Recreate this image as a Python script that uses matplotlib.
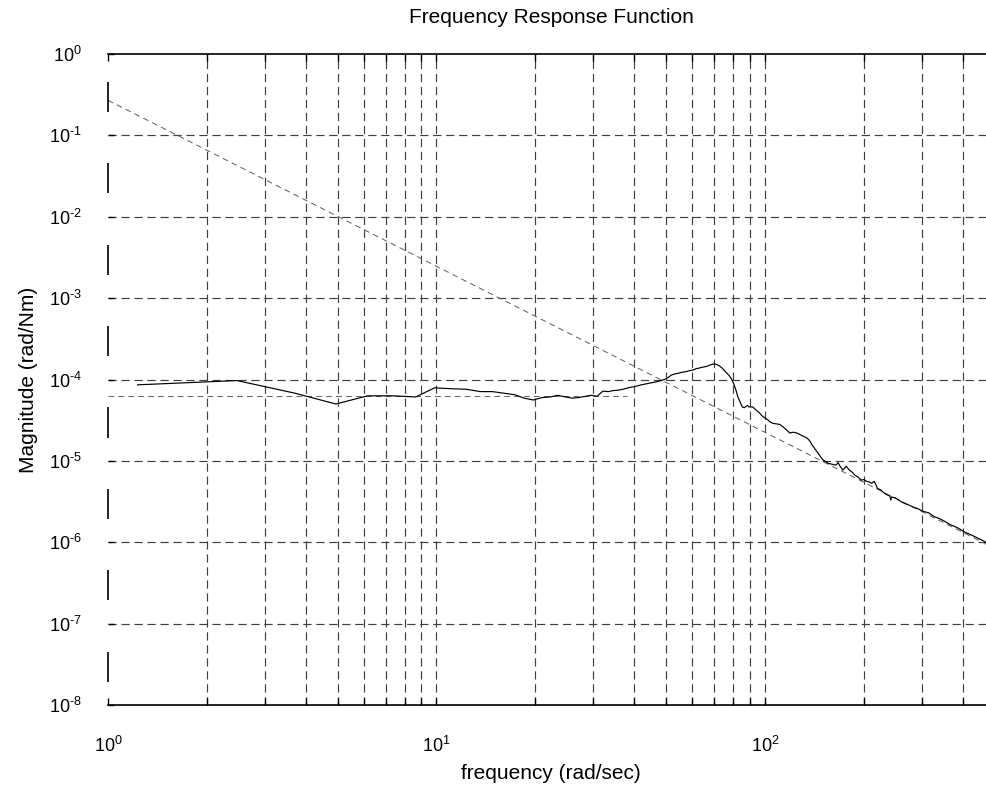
import numpy as np
import matplotlib
matplotlib.use("Agg")
import matplotlib.pyplot as plt
from matplotlib.ticker import FixedLocator, FuncFormatter, NullFormatter

plt.rcParams['font.family'] = ['Liberation Sans', 'DejaVu Sans']
plt.rcParams['mathtext.fontset'] = 'custom'
plt.rcParams['mathtext.rm'] = 'Liberation Sans'
plt.rcParams['mathtext.it'] = 'Liberation Sans'

# measured frequency response (rad/sec, rad/Nm)
freq = [1.23, 2.47, 3.70, 4.94, 6.17, 7.40, 8.64, 9.87, 11.1, 12.3, 13.6, 14.8,
        16.0, 17.3, 18.5, 19.7, 21.0, 22.2, 23.4, 24.7, 25.9, 27.1, 28.4, 29.6,
        30.8, 32.1, 33.3, 34.5, 35.8, 37.0, 38.3, 39.5, 40.7, 42.0, 43.2, 44.4,
        45.7, 46.9, 48.1, 49.4, 50.6, 51.8, 53.1, 54.3, 55.5, 56.8, 58.0, 59.2,
        60.5, 61.7, 63.0, 64.2, 65.4, 66.7, 67.9, 69.1, 70.4, 71.6, 72.8, 74.1,
        75.3, 76.5, 77.8, 79.0, 80.2, 81.5, 82.7, 84.0, 85.3, 86.4, 87.7, 88.5,
        89.5, 91.8, 94.0, 96.1, 98.5, 101.9, 103.7, 105.5, 108.0, 111.0, 113.0,
        115.0, 119.0, 122.0, 125.0, 128.0, 131.0, 134.5, 137.0, 139.0, 142.0,
        145.0, 150.0, 153.0, 156.0, 160.0, 163.5, 165.0, 167.0, 168.6, 172.6,
        176.7, 180.6, 184.0, 187.6, 192.0, 196.6, 200.0, 204.0, 208.0, 211.0,
        215.0, 218.0, 220.0, 225.0, 231.0, 236.0, 240.0, 241.5, 243.0, 250.0,
        258.0, 266.0, 275.0, 283.0, 291.0, 303.0, 315.0, 327.0, 340.0, 353.0,
        367.0, 380.0, 392.0, 403.0, 415.0, 430.0, 445.0, 460.0, 475.0, 490.0,
        500.0]
mag = [8.6e-5, 9.7e-5, 6.8e-5, 5.0e-5, 6.3e-5, 6.3e-5, 6.1e-5, 7.9e-5, 7.7e-5,
       7.6e-5, 7.1e-5, 7.1e-5, 6.8e-5, 6.5e-5, 5.9e-5, 5.6e-5, 6.0e-5, 6.1e-5,
       6.4e-5, 6.1e-5, 5.9e-5, 6.0e-5, 6.2e-5, 6.4e-5, 6.2e-5, 7.2e-5, 7.1e-5,
       7.3e-5, 7.4e-5, 7.6e-5, 7.9e-5, 8.1e-5, 8.3e-5, 8.6e-5, 8.8e-5, 9.0e-5,
       9.2e-5, 9.4e-5, 9.7e-5, 1.00e-4, 1.05e-4, 1.13e-4, 1.17e-4, 1.19e-4,
       1.22e-4, 1.24e-4, 1.26e-4, 1.29e-4, 1.31e-4, 1.36e-4, 1.38e-4, 1.41e-4,
       1.43e-4, 1.46e-4, 1.50e-4, 1.54e-4, 1.55e-4, 1.52e-4, 1.46e-4, 1.38e-4,
       1.28e-4, 1.20e-4, 1.12e-4, 1.02e-4, 9.0e-5, 7.5e-5, 6.1e-5, 5.3e-5,
       4.6e-5, 4.5e-5, 4.7e-5, 4.8e-5, 4.6e-5, 4.6e-5, 4.2e-5, 3.9e-5, 3.5e-5,
       3.2e-5, 3.0e-5, 2.9e-5, 2.85e-5, 2.8e-5, 2.65e-5, 2.5e-5, 2.2e-5,
       2.25e-5, 2.2e-5, 2.1e-5, 2.0e-5, 1.9e-5, 1.75e-5, 1.58e-5, 1.4e-5,
       1.24e-5, 1.03e-5, 9.8e-6, 9.3e-6, 9.1e-6, 8.9e-6, 9.0e-6, 9.5e-6,
       8.8e-6, 7.7e-6, 8.6e-6, 7.7e-6, 7.3e-6, 6.7e-6, 6.3e-6, 5.8e-6, 5.9e-6,
       5.6e-6, 5.5e-6, 5.3e-6, 5.6e-6, 5.0e-6, 4.6e-6, 4.4e-6, 4.0e-6, 3.8e-6,
       3.7e-6, 3.3e-6, 3.6e-6, 3.5e-6, 3.2e-6, 3.0e-6, 2.85e-6, 2.7e-6, 2.6e-6,
       2.4e-6, 2.3e-6, 2.07e-6, 1.95e-6, 1.8e-6, 1.64e-6, 1.55e-6, 1.45e-6,
       1.35e-6, 1.28e-6, 1.2e-6, 1.12e-6, 1.05e-6, 9.75e-7, 9.2e-7, 8.9e-7]

# asymptotes: rigid-body mass line and low-frequency level
mass_freq = [1.0, 500.0]
mass_mag = [0.27, 8.4e-7]
level_freq = [1.0, 38.0]
level_mag = [6.2e-5, 6.2e-5]

x_grid = [2, 3, 4, 5, 6, 7, 8, 9, 10, 20, 30, 40, 50, 60, 70, 80, 90, 100,
          200, 300, 400]
x_major = [1, 10, 100]
y_major = [1e-8, 1e-7, 1e-6, 1e-5, 1e-4, 1e-3, 1e-2, 1e-1, 1e0]

fig = plt.figure(figsize=(9.86, 7.87), dpi=100)
ax = fig.add_axes([108 / 986, 1 - 705 / 787, 886.6 / 986, (705 - 54) / 787])
ax.set_xscale('log')
ax.set_yscale('log')
ax.set_xlim(1, 500)
ax.set_ylim(1e-8, 1)

grid_kw = dict(color='#404040', lw=0.85, dashes=(7.0, 4.0), zorder=1)
for xv in x_grid:
    ax.axvline(xv, **grid_kw)
for yv in y_major[1:-1]:
    ax.axhline(yv, **grid_kw)

# left edge marks at x = 1, one per decade
for k in range(0, -8, -1):
    ax.plot([1, 1], [10 ** (k - 0.344), 10 ** (k - 0.713)], color='black',
            lw=1.2, solid_capstyle='butt', clip_on=False, zorder=3)

ax.plot(mass_freq, mass_mag, color='#666666', lw=0.75, dashes=(5.5, 4.0), zorder=2)
ax.plot(level_freq, level_mag, color='#666666', lw=0.75, dashes=(5.5, 4.0), zorder=2)
ax.plot(freq, mag, color='black', lw=0.85, zorder=4)

for s in ['left', 'right']:
    ax.spines[s].set_visible(False)
for s in ['top', 'bottom']:
    ax.spines[s].set_linewidth(1.2)
    ax.spines[s].set_color('black')


def pow10_label(v, pos):
    e = int(round(np.log10(v)))
    if e < 0:
        return r'$\mathregular{10^{\text{-}%d}}$' % (-e)
    return r'$\mathregular{10^{%d}}$' % e


fmt = FuncFormatter(pow10_label)
ax.xaxis.set_major_locator(FixedLocator(x_major))
ax.xaxis.set_minor_locator(FixedLocator(x_grid))
ax.xaxis.set_major_formatter(fmt)
ax.xaxis.set_minor_formatter(NullFormatter())
ax.yaxis.set_major_locator(FixedLocator(y_major))
ax.yaxis.set_minor_locator(FixedLocator([]))
ax.yaxis.set_major_formatter(fmt)

ax.tick_params(axis='x', which='both', direction='in', top=True, bottom=True,
               length=5, width=1, labelsize=13, pad=22)
ax.tick_params(axis='y', which='both', direction='in', left=True, right=False,
               length=4, width=1, labelsize=13, pad=19)

ax.set_xlabel('frequency (rad/sec)', fontsize=15, labelpad=6)
ax.set_ylabel('Magnitude (rad/Nm)', fontsize=15, labelpad=8)
ax.set_title('Frequency Response Function', fontsize=15, pad=22)

fig.savefig('out.png', dpi=100)
